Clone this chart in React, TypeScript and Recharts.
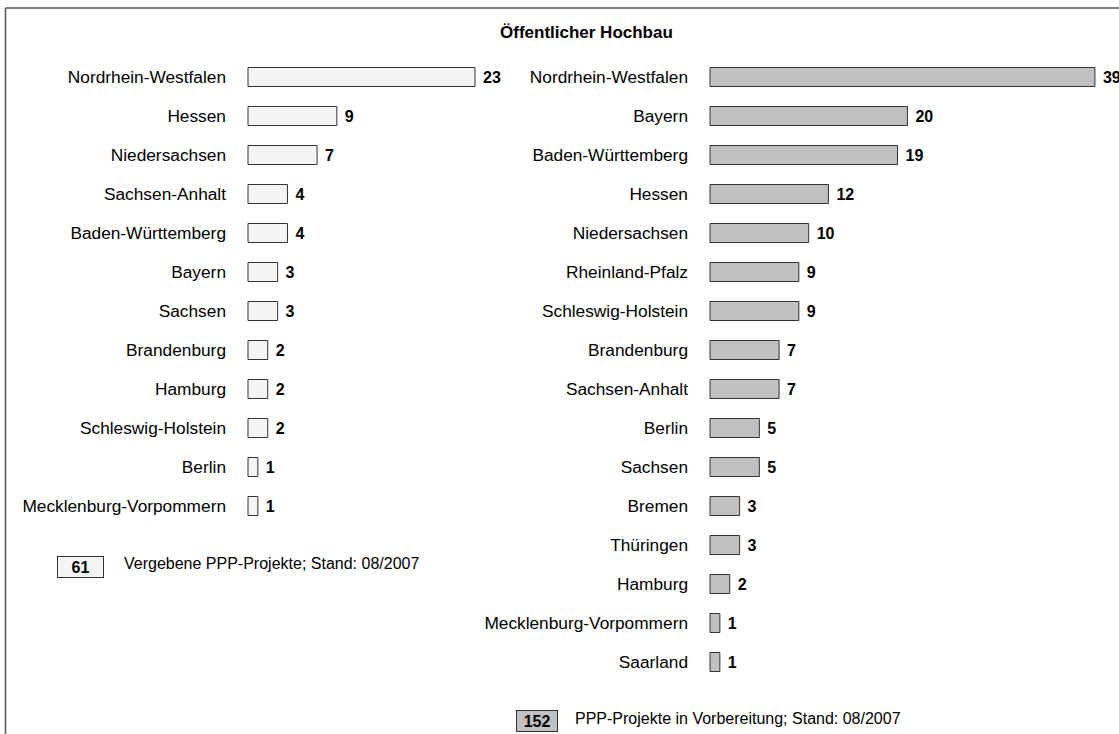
import React from "react";
import { BarChart, Bar, XAxis, YAxis, LabelList } from "recharts";

const leftStates = [
  "Nordrhein-Westfalen", "Hessen", "Niedersachsen", "Sachsen-Anhalt", "Baden-Württemberg",
  "Bayern", "Sachsen", "Brandenburg", "Hamburg", "Schleswig-Holstein", "Berlin", "Mecklenburg-Vorpommern",
];
const leftValues = [23, 9, 7, 4, 4, 3, 3, 2, 2, 2, 1, 1];

const rightStates = [
  "Nordrhein-Westfalen", "Bayern", "Baden-Württemberg", "Hessen", "Niedersachsen", "Rheinland-Pfalz",
  "Schleswig-Holstein", "Brandenburg", "Sachsen-Anhalt", "Berlin", "Sachsen", "Bremen", "Thüringen",
  "Hamburg", "Mecklenburg-Vorpommern", "Saarland",
];
const rightValues = [39, 20, 19, 12, 10, 9, 9, 7, 7, 5, 5, 3, 3, 2, 1, 1];

const title = "Öffentlicher Hochbau";
const leftTotal = 61;
const leftLegend = "Vergebene PPP-Projekte; Stand: 08/2007";
const rightTotal = 152;
const rightLegend = "PPP-Projekte in Vorbereitung; Stand: 08/2007";

const leftData = leftStates.map((name, i) => ({ name, value: leftValues[i] }));
const rightData = rightStates.map((name, i) => ({ name, value: rightValues[i] }));

const FONT = '"Liberation Sans", Arial, sans-serif';
const PX_PER_UNIT = 9.87;
const ROW = 39;
const TOP = 57.5;

const tickStyle = { fontSize: 17.3, fill: "#000", fontFamily: FONT };
const valueStyle = { fontSize: 16, fontWeight: "bold", fill: "#000", fontFamily: FONT };

export default function App() {
  const leftAxisW = 248;
  const rightAxisW = 710;
  const leftPlotW = 30 * PX_PER_UNIT;
  const rightPlotW = 40 * PX_PER_UNIT;
  const leftH = TOP + leftData.length * ROW;
  const rightH = TOP + rightData.length * ROW;
  return (
    <div
      style={{
        position: "absolute",
        left: 0,
        top: 0,
        width: 1119,
        height: 734,
        overflow: "hidden",
        background: "#fff",
        fontFamily: FONT,
      }}
    >
      <div style={{ position: "absolute", left: 0, top: 0 }}>
        <BarChart
          width={1119}
          height={734}
          data={rightData}
          layout="vertical"
          margin={{ top: TOP, bottom: 734 - rightH, left: 0, right: 1119 - rightAxisW - rightPlotW }}
        >
          <XAxis type="number" domain={[0, 40]} hide />
          <YAxis
            type="category"
            dataKey="name"
            width={rightAxisW}
            axisLine={false}
            tickLine={false}
            tickSize={0}
            tickMargin={22}
            tick={tickStyle}
            interval={0}
          />
          <Bar dataKey="value" fill="#c0c0c0" stroke="#333" strokeWidth={1} barSize={19} isAnimationActive={false}>
            <LabelList dataKey="value" position="right" offset={8} style={valueStyle} />
          </Bar>
        </BarChart>
      </div>
      <div style={{ position: "absolute", left: 0, top: 0 }}>
        <BarChart
          width={560}
          height={734}
          data={leftData}
          layout="vertical"
          margin={{ top: TOP, bottom: 734 - leftH, left: 0, right: 560 - leftAxisW - leftPlotW }}
        >
          <XAxis type="number" domain={[0, 30]} hide />
          <YAxis
            type="category"
            dataKey="name"
            width={leftAxisW}
            axisLine={false}
            tickLine={false}
            tickSize={0}
            tickMargin={22}
            tick={tickStyle}
            interval={0}
          />
          <Bar dataKey="value" fill="#f4f4f4" stroke="#333" strokeWidth={1} barSize={19} isAnimationActive={false}>
            <LabelList dataKey="value" position="right" offset={8} style={valueStyle} />
          </Bar>
        </BarChart>
      </div>
      <svg
        width={1119}
        height={734}
        style={{ position: "absolute", left: 0, top: 0, pointerEvents: "none" }}
      >
        <line x1={5.5} y1={8} x2={1119} y2={8} stroke="#555" strokeWidth={1.5} />
        <line x1={5.5} y1={8} x2={5.5} y2={734} stroke="#555" strokeWidth={1.5} />
        <text x={500} y={38} fontFamily={FONT} fontSize={17} fontWeight="bold" fill="#000">
          {title}
        </text>
        <rect x={57.5} y={556.5} width={46} height={21} fill="#f4f4f4" stroke="#333" strokeWidth={1} />
        <text x={80.5} y={573} textAnchor="middle" fontFamily={FONT} fontSize={16} fontWeight="bold" fill="#000">
          {leftTotal}
        </text>
        <text x={124} y={569} fontFamily={FONT} fontSize={16} fill="#000">
          {leftLegend}
        </text>
        <rect x={516.5} y={710.5} width={41} height={21} fill="#c0c0c0" stroke="#333" strokeWidth={1} />
        <text x={537} y={727} textAnchor="middle" fontFamily={FONT} fontSize={16} fontWeight="bold" fill="#000">
          {rightTotal}
        </text>
        <text x={575} y={724} fontFamily={FONT} fontSize={16} fill="#000">
          {rightLegend}
        </text>
      </svg>
    </div>
  );
}
